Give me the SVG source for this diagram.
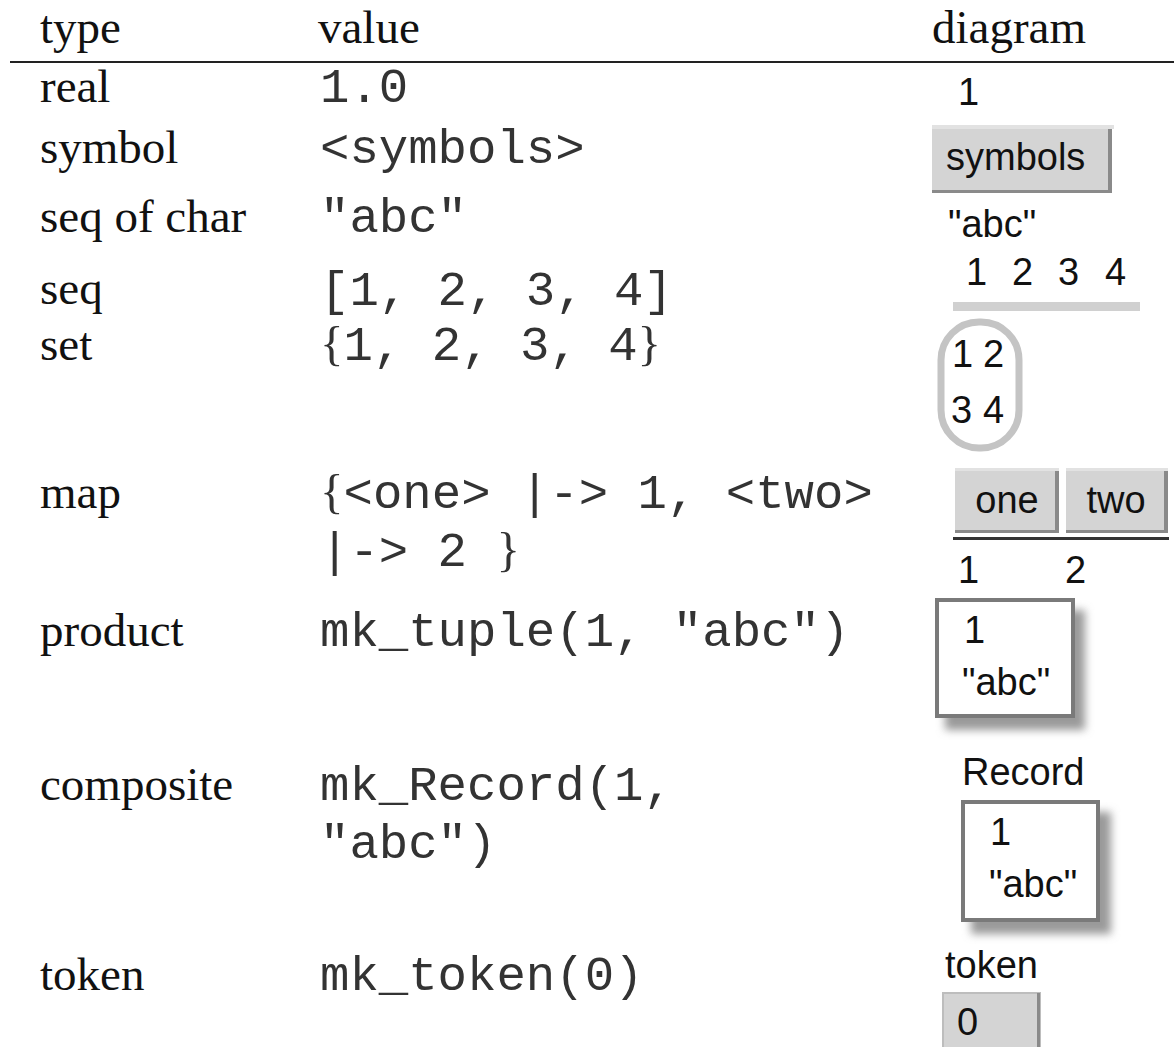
<svg xmlns="http://www.w3.org/2000/svg" width="1174" height="1047" viewBox="0 0 1174 1047">
<style>
.t{font-family:"Liberation Serif","Times New Roman",serif;font-size:47px;fill:#111}
.m{font-family:"Liberation Mono","Courier New",monospace;font-size:49px;fill:#333}
.br{font-family:"Liberation Serif","Times New Roman",serif}
.d{font-family:"Liberation Sans",Arial,sans-serif;font-size:38px;fill:#111}
.btn{fill:#d4d4d4}
.hi{fill:#e2e2e2}
.lo{fill:#8a8a8a}
.box{fill:#fff;stroke:#7a7a7a;stroke-width:4}
.sh{fill:#9a9a9a;filter:url(#blur)}
</style>
<defs>
<filter id="blur" x="-20%" y="-20%" width="140%" height="140%"><feGaussianBlur stdDeviation="4"/></filter>
</defs>
<rect width="1174" height="1047" fill="#fff"/>
<g id="header">
<text class="t" x="40" y="43">type</text>
<text class="t" x="318" y="43">value</text>
<text class="t" x="932" y="43">diagram</text>
<line x1="10" y1="62" x2="1174" y2="62" stroke="#222" stroke-width="2"/>
</g>
<g id="row-real">
<text class="t" x="40" y="102">real</text>
<text class="m" x="320" y="102">1.0</text>
<text class="d" x="958" y="105">1</text>
</g>
<g id="row-symbol">
<text class="t" x="40" y="163">symbol</text>
<text class="m" x="320" y="163">&lt;symbols&gt;</text>
<rect class="hi" x="932" y="125" width="182" height="4"/>
<rect class="btn" x="932" y="129" width="180" height="64"/>
<rect class="lo" x="1108" y="129" width="4" height="64"/>
<rect class="lo" x="932" y="190" width="180" height="3"/>
<text class="d" x="946" y="170" font-size="39">symbols</text>
</g>
<g id="row-seqchar">
<text class="t" x="40" y="232">seq of char</text>
<text class="m" x="320" y="232">"abc"</text>
<text class="d" x="948" y="237">"abc"</text>
</g>
<g id="row-seq">
<text class="t" x="40" y="304">seq</text>
<text class="m" x="320" y="305">[1, 2, 3, 4]</text>
<text class="d" x="966" y="285">1</text>
<text class="d" x="1012" y="285">2</text>
<text class="d" x="1058" y="285">3</text>
<text class="d" x="1105" y="285">4</text>
<rect x="953" y="302" width="187" height="9" fill="#d0d0d0"/>
</g>
<g id="row-set">
<text class="t" x="40" y="360">set</text>
<text class="m" x="320" y="360"><tspan class="br">{</tspan>1, 2, 3, 4<tspan class="br">}</tspan></text>
<rect x="941" y="322" width="78" height="126" rx="38" ry="38" fill="#fff" stroke="#c4c4c4" stroke-width="7"/>
<text class="d" x="952" y="367" font-size="35">1</text>
<text class="d" x="983" y="367" font-size="35">2</text>
<text class="d" x="951" y="423" font-size="35">3</text>
<text class="d" x="983" y="423" font-size="35">4</text>
</g>
<g id="row-map">
<text class="t" x="40" y="508">map</text>
<text class="m" x="320" y="508"><tspan class="br">{</tspan>&lt;one&gt; |-&gt; 1, &lt;two&gt;</text>
<text class="m" x="320" y="566">|-&gt; 2 <tspan class="br">}</tspan></text>
<rect class="hi" x="955" y="468" width="104" height="3"/>
<rect class="btn" x="955" y="471" width="104" height="62"/>
<rect class="lo" x="1055" y="471" width="4" height="62"/>
<rect class="lo" x="955" y="530" width="104" height="3"/>
<rect class="hi" x="1066" y="468" width="102" height="3"/>
<rect class="btn" x="1066" y="471" width="102" height="62"/>
<rect class="lo" x="1164" y="471" width="4" height="62"/>
<rect class="lo" x="1066" y="530" width="102" height="3"/>
<text class="d" x="1007" y="513" text-anchor="middle">one</text>
<text class="d" x="1116" y="513" text-anchor="middle">two</text>
<rect x="953" y="537" width="216" height="3" fill="#333"/>
<text class="d" x="958" y="583" font-size="40">1</text>
<text class="d" x="1065" y="583" font-size="40">2</text>
</g>
<g id="row-product">
<text class="t" x="40" y="646">product</text>
<text class="m" x="320" y="646">mk_tuple(1, "abc")</text>
<rect class="sh" x="945" y="610" width="140" height="120"/>
<rect class="box" x="937" y="600" width="136" height="116"/>
<text class="d" x="964" y="643" font-size="34">1</text>
<text class="d" x="962" y="695" font-size="34">"abc"</text>
</g>
<g id="row-composite">
<text class="t" x="40" y="800">composite</text>
<text class="m" x="320" y="800">mk_Record(1,</text>
<text class="m" x="320" y="858">"abc")</text>
<text class="d" x="962" y="785" font-size="36">Record</text>
<rect class="sh" x="971" y="812" width="140" height="122"/>
<rect class="box" x="963" y="802" width="135" height="118"/>
<text class="d" x="990" y="845" font-size="34">1</text>
<text class="d" x="989" y="897" font-size="34">"abc"</text>
</g>
<g id="row-token">
<text class="t" x="40" y="990">token</text>
<text class="m" x="320" y="990">mk_token(0)</text>
<text class="d" x="945" y="978" font-size="38">token</text>
<rect class="btn" x="943" y="993" width="97" height="60" stroke="#bdbdbd" stroke-width="2"/>
<rect class="lo" x="1037" y="993" width="3" height="60"/>
<text class="d" x="957" y="1035" font-size="36">0</text>
</g>
</svg>
